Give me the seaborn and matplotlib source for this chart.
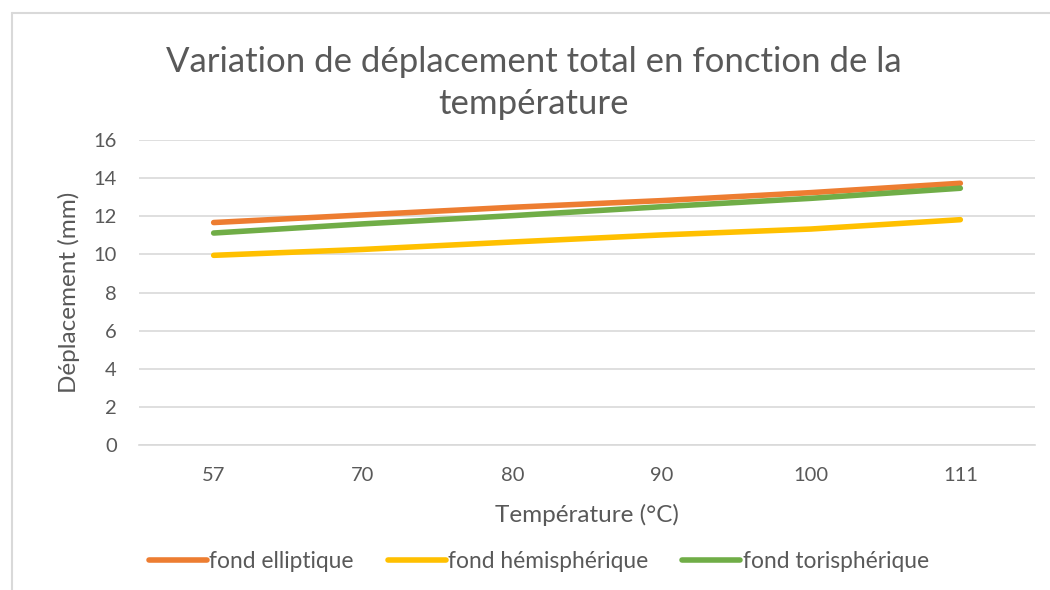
import matplotlib
matplotlib.use("Agg")
import matplotlib.pyplot as plt
from matplotlib.lines import Line2D
import pandas as pd
import seaborn as sns

temperatures = ["57", "70", "80", "90", "100", "111"]
fond_elliptique = [11.67, 12.07, 12.47, 12.82, 13.24, 13.73]
fond_hemispherique = [9.95, 10.26, 10.65, 11.02, 11.33, 11.82]
fond_torispherique = [11.12, 11.60, 12.03, 12.50, 12.94, 13.47]

series_names = ["fond elliptique", "fond hémisphérique", "fond torisphérique"]
series_colors = ["#ED7D31", "#FFC000", "#70AD47"]

df = pd.concat([
    pd.DataFrame({"Température": temperatures, "Déplacement": vals, "Série": name})
    for name, vals in zip(series_names, [fond_elliptique, fond_hemispherique, fond_torispherique])
], ignore_index=True)

sns.set_theme(style="white")
plt.rcParams["font.family"] = ["Lato", "DejaVu Sans"]
text_color = "#595959"
grid_color = "#D9D9D9"

fig = plt.figure(figsize=(10.5, 5.9), dpi=100)
ax = fig.add_axes([139 / 1050, 1 - 445 / 590, (1035 - 139) / 1050, (445 - 140) / 590])

sns.lineplot(data=df, x="Température", y="Déplacement", hue="Série",
             palette=dict(zip(series_names, series_colors)), sort=False,
             linewidth=4.0, solid_capstyle="round", ax=ax, legend=False)

ax.set_xlim(-0.5, len(temperatures) - 0.5)
ax.set_ylim(0, 16)
ax.set_yticks(range(0, 17, 2))
ax.yaxis.grid(True, color=grid_color, linewidth=1.2)
ax.set_axisbelow(True)
for side in ["top", "right", "left"]:
    ax.spines[side].set_visible(False)
ax.spines["bottom"].set_color(grid_color)
ax.spines["bottom"].set_linewidth(1.2)
ax.tick_params(axis="both", length=0, labelsize=14.5, colors=text_color)
ax.tick_params(axis="x", pad=16)
ax.tick_params(axis="y", pad=16)

ax.set_xlabel("Température (°C)", fontsize=17.5, color=text_color, labelpad=14)
ax.set_ylabel("Déplacement (mm)", fontsize=17.5, color=text_color, labelpad=10)

fig.text(0.508, 1 - 83 / 590, "Variation de déplacement total en fonction de la\ntempérature",
         ha="center", va="center", fontsize=25, color=text_color, linespacing=1.42)

handles = [Line2D([0], [0], color=c, linewidth=4.0, solid_capstyle="round") for c in series_colors]
fig.legend(handles, series_names, loc="center", bbox_to_anchor=(0.513, 1 - 561 / 590),
           ncol=3, frameon=False, fontsize=16.4, labelcolor=text_color,
           handlelength=2.55, handletextpad=0.1, columnspacing=1.5)

# chart-area frame
fig.add_artist(Line2D([12 / 1050, 12 / 1050], [0, 1 - 13 / 590], color=grid_color, linewidth=1.5))
fig.add_artist(Line2D([12 / 1050, 1], [1 - 13 / 590, 1 - 13 / 590], color=grid_color, linewidth=1.5))

fig.savefig("out.png", dpi=100, facecolor="white")
